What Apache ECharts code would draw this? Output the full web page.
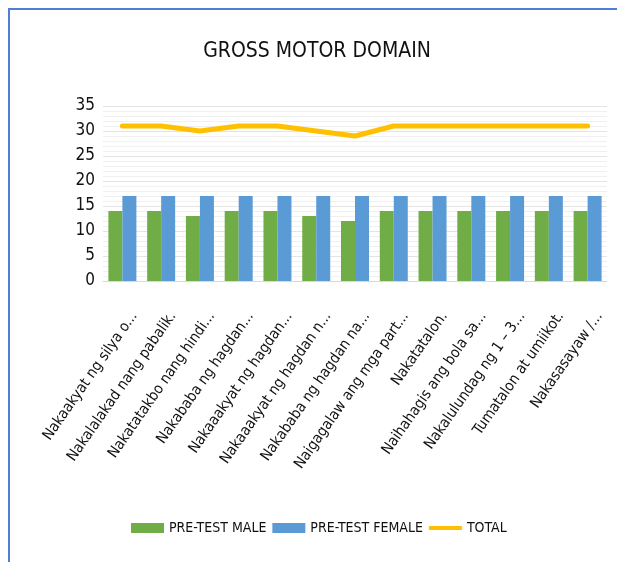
<!DOCTYPE html>
<html>
<head>
<meta charset="utf-8">
<script src="https://cdn.jsdelivr.net/npm/echarts@6/dist/echarts.min.js"></script>
<style>
  html, body { margin: 0; padding: 0; background: #fff; }
  #frame { position: absolute; left: 8px; top: 8px; width: 620px; height: 570px;
           border-left: 2px solid #4f7fd4; border-top: 2px solid #4f7fd4; }
  #chart { position: absolute; left: 0; top: 0; width: 617px; height: 562px; }
</style>
</head>
<body>
<div id="frame"></div>
<div id="chart"></div>
<script>
const categories = [
  "Nakaakyat ng silya o...",
  "Nakalalakad nang pabalik.",
  "Nakatatakbo nang hindi...",
  "Nakababa ng hagdan...",
  "Nakaaakyat ng hagdan...",
  "Nakaaakyat ng hagdan n...",
  "Nakababa ng hagdan na...",
  "Naigagalaw ang mga part...",
  "Nakatatalon.",
  "Naihahagis ang bola sa...",
  "Nakalulundag ng 1 \u2013 3...",
  "Tumatalon at umiikot.",
  "Nakasasayaw /..."
];
const preTestMale = [14, 14, 13, 14, 14, 13, 12, 14, 14, 14, 14, 14, 14];
const preTestFemale = [17, 17, 17, 17, 17, 17, 17, 17, 17, 17, 17, 17, 17];
const total = [31, 31, 30, 31, 31, 30, 29, 31, 31, 31, 31, 31, 31];

const font = "'Liberation Sans Narrow', 'DejaVu Sans Condensed', sans-serif";

const chart = echarts.init(document.getElementById("chart"));
chart.setOption({
  animation: false,
  title: {
    text: "GROSS MOTOR DOMAIN",
    left: 312,
    textAlign: "center",
    top: 36,
    textStyle: { fontFamily: font, fontSize: 21, fontWeight: "normal", color: "#111" }
  },
  legend: {
    bottom: 22,
    left: 126,
    itemWidth: 33,
    itemHeight: 10,
    itemGap: 6,
    symbolKeepAspect: true,
    textStyle: { fontFamily: font, fontSize: 14, color: "#111" },
    data: [
      { name: "PRE-TEST MALE", icon: "rect" },
      { name: "PRE-TEST FEMALE", icon: "rect" },
      { name: "TOTAL", icon: "path://M0,0 L33,0 L33,4 L0,4 Z" }
    ]
  },
  grid: { left: 103, right: 10, top: 106, bottom: 281 },
  xAxis: {
    type: "category",
    data: categories,
    axisLine: { lineStyle: { color: "#d9d9d9" } },
    axisTick: { show: false },
    axisLabel: {
      interval: 0,
      rotate: 55,
      margin: 12,
      verticalAlign: "top",
      padding: [14, 10, 0, 0],
      fontFamily: font,
      fontSize: 15,
      color: "#111"
    }
  },
  yAxis: {
    type: "value",
    min: 0,
    max: 35,
    interval: 5,
    axisLine: { show: false },
    axisTick: { show: false },
    axisLabel: { fontFamily: font, fontSize: 17, color: "#111", margin: 8 },
    splitLine: { lineStyle: { color: "#e4e4e4" } },
    minorTick: { show: false, splitNumber: 5 },
    minorSplitLine: { show: true, lineStyle: { color: "#f0f0f0" } }
  },
  series: [
    {
      name: "PRE-TEST MALE",
      type: "bar",
      data: preTestMale,
      barWidth: 14,
      barGap: "0%",
      itemStyle: { color: "#70ad47" }
    },
    {
      name: "PRE-TEST FEMALE",
      type: "bar",
      data: preTestFemale,
      barWidth: 14,
      itemStyle: { color: "#5b9bd5" }
    },
    {
      name: "TOTAL",
      type: "line",
      data: total,
      symbol: "none",
      lineStyle: { color: "#ffc000", width: 5, cap: "round", join: "round" },
      itemStyle: { color: "#ffc000" }
    }
  ]
});
</script>
</body>
</html>
